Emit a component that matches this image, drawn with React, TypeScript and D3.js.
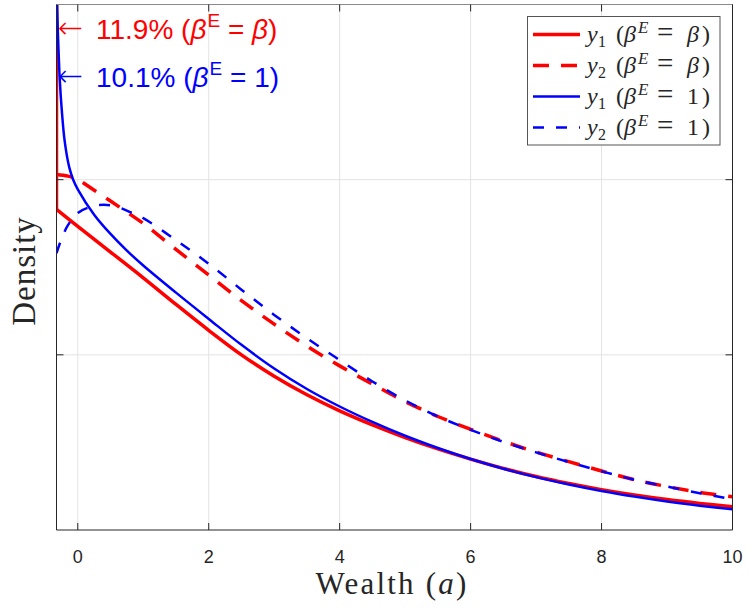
import React from "react";
import * as d3 from "d3";

// ---- data ----
const xDomain = [-0.325, 10];
const yDomain = [0, 3];
const xTicks = [0, 2, 4, 6, 8, 10];
const yTicks = [0, 1, 2, 3];

// y1 (beta^E = beta): mass point at borrowing limit, then density
const redSolidX = [-0.325, 0, 0.5, 1, 1.5, 2, 2.5, 3, 3.5, 4, 4.5, 5, 5.5, 6, 6.5, 7, 7.5, 8, 8.5, 9, 9.5, 10];
const redSolidY = [1.83, 1.733, 1.587, 1.44, 1.288, 1.14, 1.0, 0.878, 0.772, 0.68, 0.6, 0.528, 0.463, 0.405, 0.352, 0.305, 0.265, 0.23, 0.2, 0.174, 0.152, 0.133];
const redAtomTop = 3.2;

// y2 (beta^E = beta)
const redDashedX = [-0.325, -0.15, 0, 0.25, 0.5, 0.75, 1, 1.5, 2, 2.5, 3, 3.5, 4, 4.5, 5, 5.5, 6, 6.5, 7, 7.5, 8, 8.5, 9, 9.5, 10];
const redDashedY = [2.03, 2.02, 2.0, 1.94, 1.878, 1.815, 1.75, 1.602, 1.455, 1.31, 1.175, 1.05, 0.937, 0.833, 0.733, 0.648, 0.575, 0.507, 0.445, 0.39, 0.337, 0.287, 0.248, 0.215, 0.19];

// y1 (beta^E = 1)
const blueSolidX = [-0.322, -0.305, -0.29, -0.275, -0.245, -0.2, -0.13, -0.07, 0, 0.25, 0.5, 0.75, 1, 1.5, 2, 2.5, 3, 3.5, 4, 4.5, 5, 5.5, 6, 6.5, 7, 7.5, 8, 8.5, 9, 9.5, 10];
const blueSolidY = [3.1, 2.85, 2.7, 2.57, 2.4, 2.22, 2.07, 2.0, 1.945, 1.8, 1.69, 1.595, 1.51, 1.355, 1.205, 1.057, 0.922, 0.805, 0.705, 0.617, 0.538, 0.468, 0.405, 0.35, 0.302, 0.26, 0.223, 0.191, 0.163, 0.139, 0.118];

// y2 (beta^E = 1)
const blueDashedX = [-0.325, -0.25, -0.15, 0, 0.2, 0.4, 0.6, 0.8, 1, 1.5, 2, 2.5, 3, 3.5, 4, 4.5, 5, 5.5, 6, 6.5, 7, 7.5, 8, 8.5, 9, 9.5, 10];
const blueDashedY = [1.58, 1.66, 1.74, 1.81, 1.845, 1.857, 1.845, 1.815, 1.78, 1.655, 1.52, 1.372, 1.228, 1.095, 0.97, 0.848, 0.74, 0.648, 0.572, 0.503, 0.443, 0.388, 0.335, 0.287, 0.248, 0.21, 0.175];

const massShares = ["11.9%", "10.1%"];
const massRhs = ["\u03B2", "1"];
const legendSub = ["1", "2", "1", "2"];
const legendRhs = ["\u03B2", "\u03B2", "1", "1"];

// ---- layout ----
const W = 749, H = 612;
const L = 56.5, R = 732.5, T = 4.5, B = 530;

const RED = "#ff0000";
const BLUE = "#0000ff";
const AX = "#262626";

export default function App() {
  const x = d3.scaleLinear().domain(xDomain).range([L, R]);
  const y = d3.scaleLinear().domain(yDomain).range([B, T]);

  const zip = (xs: number[], ys: number[]) => xs.map((v, i) => [v, ys[i]] as [number, number]);
  const smooth = d3
    .line<[number, number]>()
    .x((d) => x(d[0]))
    .y((d) => y(d[1]))
    .curve(d3.curveCatmullRom.alpha(0.5));
  const straight = d3
    .line<[number, number]>()
    .x((d) => x(d[0]))
    .y((d) => y(d[1]));

  const redAtom = straight([
    [redSolidX[0], redAtomTop],
    [redSolidX[0], redSolidY[0]],
  ]);

  const series = [
    { d: smooth(zip(redSolidX, redSolidY)), color: RED, w: 3.5, dash: undefined },
    { d: smooth(zip(redDashedX, redDashedY)), color: RED, w: 3.5, dash: "16 12" },
    { d: smooth(zip(blueSolidX, blueSolidY)), color: BLUE, w: 2.5, dash: undefined },
    { d: smooth(zip(blueDashedX, blueDashedY)), color: BLUE, w: 2.5, dash: "11 12" },
  ];

  const sans = "Liberation Sans, Arial, Helvetica, sans-serif";
  const serif = "Liberation Serif, Times New Roman, serif";

  const legendX = 527.5, legendY = 16.5, legendW = 192.5, legendH = 128.5;
  const rowY = (i: number) => 34.5 + i * 31;

  return (
    <svg
      width={W}
      height={H}
      viewBox={`0 0 ${W} ${H}`}
      style={{ position: "absolute", left: 0, top: 0, background: "#fff" }}
    >
      <defs>
        <clipPath id="plotClip">
          <rect x={L} y={T} width={R - L} height={B - T} />
        </clipPath>
      </defs>
      <rect x={0} y={0} width={W} height={H} fill="#fff" />

      {/* grid */}
      {xTicks
        .filter((t) => t > xDomain[0] && t < xDomain[1])
        .map((t) => (
          <line key={"gx" + t} x1={x(t)} x2={x(t)} y1={T} y2={B} stroke="#e3e3e3" strokeWidth={1} />
        ))}
      {yTicks
        .filter((t) => t > yDomain[0] && t < yDomain[1])
        .map((t) => (
          <line key={"gy" + t} x1={L} x2={R} y1={y(t)} y2={y(t)} stroke="#e3e3e3" strokeWidth={1} />
        ))}

      {/* curves */}
      <g clipPath="url(#plotClip)" fill="none">
        <path d={redAtom || ""} stroke={RED} strokeWidth={3.5} />
        {series.map((s, i) => (
          <path
            key={i}
            d={s.d || ""}
            stroke={s.color}
            strokeWidth={s.w}
            strokeDasharray={s.dash}
            strokeLinejoin="round"
          />
        ))}
      </g>

      {/* axes box */}
      <line x1={L} x2={R} y1={T} y2={T} stroke="#8a8a8a" strokeWidth={1} />
      <line x1={L} x2={R} y1={B} y2={B} stroke={AX} strokeWidth={1} />
      <line x1={L} x2={L} y1={T} y2={B} stroke={AX} strokeWidth={1} />
      <line x1={R} x2={R} y1={T} y2={B} stroke={AX} strokeWidth={1} />

      {/* ticks */}
      {xTicks.map((t) => (
        <g key={"tx" + t}>
          <line x1={x(t)} x2={x(t)} y1={B} y2={B - 7} stroke={AX} strokeWidth={1} />
          <line x1={x(t)} x2={x(t)} y1={T} y2={T + 7} stroke={AX} strokeWidth={1} />
          <text
            x={x(t)}
            y={562.5}
            textAnchor="middle"
            fontFamily={sans}
            fontSize={18}
            fill={AX}
          >
            {t}
          </text>
        </g>
      ))}
      {yTicks
        .filter((t) => t > yDomain[0] && t < yDomain[1])
        .map((t) => (
          <g key={"ty" + t}>
            <line x1={L} x2={L + 7} y1={y(t)} y2={y(t)} stroke={AX} strokeWidth={1} />
            <line x1={R} x2={R - 7} y1={y(t)} y2={y(t)} stroke={AX} strokeWidth={1} />
          </g>
        ))}

      {/* axis labels */}
      <text
        x={392}
        y={594}
        textAnchor="middle"
        fontFamily={serif}
        fontSize={31}
        letterSpacing={2.2}
        fill={AX}
      >
        Wealth (<tspan fontStyle="italic">a</tspan>)
      </text>
      <text
        transform={`translate(35, 271) rotate(-90)`}
        textAnchor="middle"
        fontFamily={serif}
        fontSize={33}
        letterSpacing={1}
        fill={AX}
      >
        Density
      </text>

      {/* annotations */}
      {massShares.map((m, i) => (
        <text
          key={"ann" + i}
          x={58}
          y={39 + i * 47.5}
          fontFamily={sans}
          fontSize={28}
          fill={i === 0 ? RED : BLUE}
        >
          <tspan fontFamily="DejaVu Sans, sans-serif" fontWeight={200} fontSize={30} dy={-1}>{"\u2190"}</tspan>
          <tspan x={96} dy={1}>{m} (</tspan>
          <tspan fontStyle="italic">{"\u03B2"}</tspan>
          <tspan fontSize={19} dy={-12} dx={1}>E</tspan>
          <tspan dy={12}> = </tspan>
          <tspan fontStyle={massRhs[i] === "1" ? "normal" : "italic"}>{massRhs[i]}</tspan>
          <tspan>)</tspan>
        </text>
      ))}

      {/* legend */}
      <rect
        x={legendX}
        y={legendY}
        width={legendW}
        height={legendH}
        fill="#fff"
        stroke="#555"
        strokeWidth={1}
      />
      {series.map((s, i) => (
        <g key={"lg" + i}>
          <line
            x1={533}
            x2={580}
            y1={rowY(i)}
            y2={rowY(i)}
            stroke={s.color}
            strokeWidth={s.w}
            strokeDasharray={s.dash}
          />
          <text y={rowY(i) + 7} fontFamily={serif} fontSize={24} fill={AX}>
            <tspan x={587} fontStyle="italic">y</tspan>
            <tspan x={598} dy={5} fontSize={16}>{legendSub[i]}</tspan>
            <tspan x={616} dy={-5}>(</tspan>
            <tspan x={624} fontStyle="italic">{"\u03B2"}</tspan>
            <tspan x={638} dy={-9} fontSize={17} fontStyle="italic">E</tspan>
            <tspan x={657} dy={9} fontSize={29}>=</tspan>
            <tspan x={687} fontStyle={legendRhs[i] === "1" ? "normal" : "italic"}>{legendRhs[i]}</tspan>
            <tspan x={702}>)</tspan>
          </text>
        </g>
      ))}
    </svg>
  );
}
